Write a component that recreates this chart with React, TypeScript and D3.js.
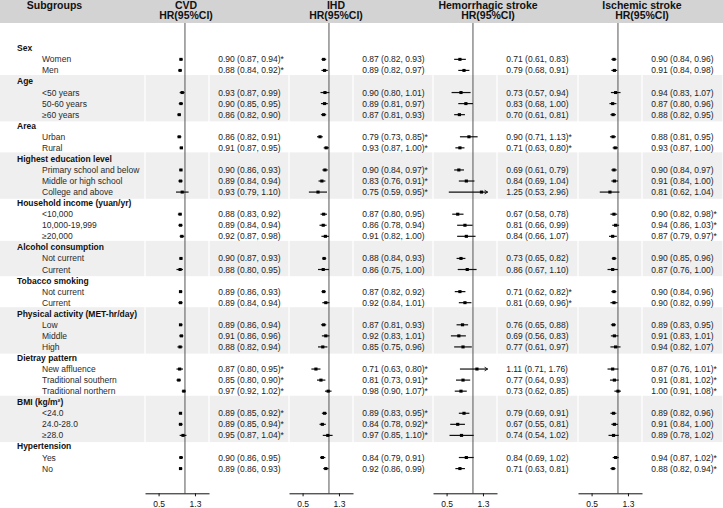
import { useEffect, useRef } from "react";
import * as d3 from "d3";

// subgroup table
const groupNames = [
  "Sex", "Age", "Area", "Highest education level", "Household income (yuan/yr)",
  "Alcohol consumption", "Tobacco smoking", "Physical activity (MET-hr/day)",
  "Dietray pattern", "BMI (kg/m²)", "Hypertension",
];
const subgroupLabels = [
  ["Women", "Men"],
  ["<50 years", "50-60 years", "≥60 years"],
  ["Urban", "Rural"],
  ["Primary school and below", "Middle or high school", "College and above"],
  ["<10,000", "10,000-19,999", "≥20,000"],
  ["Not current", "Current"],
  ["Not current", "Current"],
  ["Low", "Middle", "High"],
  ["New affluence", "Traditional southern", "Traditional northern"],
  ["<24.0", "24.0-28.0", "≥28.0"],
  ["Yes", "No"],
];

const outcomes = ["CVD", "IHD", "Hemorrhagic stroke", "Ischemic stroke"];

// [HR, lower, upper, significant-interaction flag]
const cvd = [
  [0.90, 0.87, 0.94, 1], [0.88, 0.84, 0.92, 1],
  [0.93, 0.87, 0.99, 0], [0.90, 0.85, 0.95, 0], [0.86, 0.82, 0.90, 0],
  [0.86, 0.82, 0.91, 0], [0.91, 0.87, 0.95, 0],
  [0.90, 0.86, 0.93, 0], [0.89, 0.84, 0.94, 0], [0.93, 0.79, 1.10, 0],
  [0.88, 0.83, 0.92, 0], [0.89, 0.84, 0.94, 0], [0.92, 0.87, 0.98, 0],
  [0.90, 0.87, 0.93, 0], [0.88, 0.80, 0.95, 0],
  [0.89, 0.86, 0.93, 0], [0.89, 0.84, 0.94, 0],
  [0.89, 0.86, 0.94, 0], [0.91, 0.86, 0.96, 0], [0.88, 0.82, 0.94, 0],
  [0.87, 0.80, 0.95, 1], [0.85, 0.80, 0.90, 1], [0.97, 0.92, 1.02, 1],
  [0.89, 0.85, 0.92, 1], [0.89, 0.85, 0.94, 1], [0.95, 0.87, 1.04, 1],
  [0.90, 0.86, 0.95, 0], [0.89, 0.86, 0.93, 0],
];
const ihd = [
  [0.87, 0.82, 0.93, 0], [0.89, 0.82, 0.97, 0],
  [0.90, 0.80, 1.01, 0], [0.89, 0.81, 0.97, 0], [0.87, 0.81, 0.93, 0],
  [0.79, 0.73, 0.85, 1], [0.93, 0.87, 1.00, 1],
  [0.90, 0.84, 0.97, 1], [0.83, 0.76, 0.91, 1], [0.75, 0.59, 0.95, 1],
  [0.87, 0.80, 0.95, 0], [0.86, 0.78, 0.94, 0], [0.91, 0.82, 1.00, 0],
  [0.88, 0.84, 0.93, 0], [0.86, 0.75, 1.00, 0],
  [0.87, 0.82, 0.92, 0], [0.92, 0.84, 1.01, 0],
  [0.87, 0.81, 0.93, 0], [0.92, 0.83, 1.01, 0], [0.85, 0.75, 0.96, 0],
  [0.71, 0.63, 0.80, 1], [0.81, 0.73, 0.91, 1], [0.98, 0.90, 1.07, 1],
  [0.89, 0.83, 0.95, 1], [0.84, 0.78, 0.92, 1], [0.97, 0.85, 1.10, 1],
  [0.84, 0.79, 0.91, 0], [0.92, 0.86, 0.99, 0],
];
const hemorrhagic = [
  [0.71, 0.61, 0.83, 0], [0.79, 0.68, 0.91, 0],
  [0.73, 0.57, 0.94, 0], [0.83, 0.68, 1.00, 0], [0.70, 0.61, 0.81, 0],
  [0.90, 0.71, 1.13, 1], [0.71, 0.63, 0.80, 1],
  [0.69, 0.61, 0.79, 0], [0.84, 0.69, 1.04, 0], [1.25, 0.53, 2.96, 0],
  [0.67, 0.58, 0.78, 0], [0.81, 0.66, 0.99, 0], [0.84, 0.66, 1.07, 0],
  [0.73, 0.65, 0.82, 0], [0.86, 0.67, 1.10, 0],
  [0.71, 0.62, 0.82, 1], [0.81, 0.69, 0.96, 1],
  [0.76, 0.65, 0.88, 0], [0.69, 0.56, 0.83, 0], [0.77, 0.61, 0.97, 0],
  [1.11, 0.71, 1.76, 0], [0.77, 0.64, 0.93, 0], [0.73, 0.62, 0.85, 0],
  [0.79, 0.69, 0.91, 0], [0.67, 0.55, 0.81, 0], [0.74, 0.54, 1.02, 0],
  [0.84, 0.69, 1.02, 0], [0.71, 0.63, 0.81, 0],
];
const ischemic = [
  [0.90, 0.84, 0.96, 0], [0.91, 0.84, 0.98, 0],
  [0.94, 0.83, 1.07, 0], [0.87, 0.80, 0.96, 0], [0.88, 0.82, 0.95, 0],
  [0.88, 0.81, 0.95, 0], [0.93, 0.87, 1.00, 0],
  [0.90, 0.84, 0.97, 0], [0.91, 0.84, 1.00, 0], [0.81, 0.62, 1.04, 0],
  [0.90, 0.82, 0.98, 1], [0.94, 0.86, 1.03, 1], [0.87, 0.79, 0.97, 1],
  [0.90, 0.85, 0.96, 0], [0.87, 0.76, 1.00, 0],
  [0.90, 0.84, 0.96, 0], [0.90, 0.82, 0.99, 0],
  [0.89, 0.83, 0.95, 0], [0.91, 0.83, 1.01, 0], [0.94, 0.82, 1.07, 0],
  [0.87, 0.76, 1.01, 1], [0.91, 0.81, 1.02, 1], [1.00, 0.91, 1.08, 1],
  [0.89, 0.82, 0.96, 0], [0.91, 0.84, 1.00, 0], [0.89, 0.78, 1.02, 0],
  [0.94, 0.87, 1.02, 1], [0.88, 0.82, 0.94, 1],
];
const outcomeData = [cvd, ihd, hemorrhagic, ischemic];

const xDomain = [0.35, 1.88];
const xTicks = [0.5, 1.3];
const ciClip = 1.47;

export default function App() {
  const ref = useRef<SVGSVGElement>(null);

  useEffect(() => {
    const svg = d3.select(ref.current);
    svg.selectAll("*").remove();

    const width = 723;
    const height = 508;
    const font = "'Liberation Sans', Arial, Helvetica, sans-serif";
    const headerH = 23;
    const rowStep = 11.06;
    const firstBase = 51.3;
    const axisY = 493.3;
    const forestLeft = [145, 289, 433, 578];
    const forestW = 64;
    const textRight = [289, 433, 578, 723];
    const headerX = [186, 336, 488, 642];
    const fmt = d3.format(".2f");

    svg.attr("width", width).attr("height", height).style("font-family", font);

    // flatten rows
    type Row = { label: string; header: boolean; group: number; idx: number };
    const rows: Row[] = [];
    let k = 0;
    groupNames.forEach((g, gi) => {
      rows.push({ label: g, header: true, group: gi, idx: -1 });
      subgroupLabels[gi].forEach(s => rows.push({ label: s, header: false, group: gi, idx: k++ }));
    });
    const base = (i: number) => firstBase + i * rowStep;
    const mid = (i: number) => base(i) - 3;

    // background bands
    const cols: [number, number][] = [[0, forestLeft[0]]];
    forestLeft.forEach((l, i) => {
      cols.push([l, l + forestW]);
      cols.push([l + forestW, textRight[i]]);
    });
    groupNames.forEach((g, gi) => {
      if (gi % 2 === 0) return;
      const idxs = rows.map((r, i) => (r.group === gi ? i : -1)).filter(i => i >= 0);
      const y0 = mid(idxs[0]) - 6.5;
      const y1 = mid(idxs[idxs.length - 1]) + 6.7;
      cols.forEach(([a, b]) => {
        svg.append("rect")
          .attr("x", a === 0 ? 0 : a + 0.6).attr("y", y0)
          .attr("width", b - (a === 0 ? 0 : a + 0.6) - 0.6).attr("height", y1 - y0)
          .attr("fill", "#efefef");
      });
    });

    // header
    svg.append("rect").attr("x", 0).attr("y", 0).attr("width", width).attr("height", headerH).attr("fill", "#d3d3d3");
    svg.append("text").attr("x", 54.5).attr("y", 8.6).attr("text-anchor", "middle")
      .attr("font-size", 10.5).attr("font-weight", "bold").attr("fill", "#111").text("Subgroups");
    outcomes.forEach((o, i) => {
      svg.append("text").attr("x", headerX[i]).attr("y", 8.6).attr("text-anchor", "middle")
        .attr("font-size", 10.5).attr("font-weight", "bold").attr("fill", "#111").text(o);
      svg.append("text").attr("x", headerX[i]).attr("y", 19.4).attr("text-anchor", "middle")
        .attr("font-size", 10.5).attr("font-weight", "bold").attr("fill", "#111").text("HR(95%CI)");
    });

    // labels
    svg.append("g").selectAll("text").data(rows).join("text")
      .attr("x", d => (d.header ? 17 : 42))
      .attr("y", (d, i) => base(i))
      .attr("font-size", 8.5)
      .attr("font-weight", d => (d.header ? "bold" : "normal"))
      .attr("fill", d => (d.header ? "#111" : "#2a2a2a"))
      .text(d => d.label);

    const subRows = rows.map((r, i) => ({ ...r, i })).filter(r => !r.header);

    outcomeData.forEach((data, p) => {
      const x = d3.scaleLog().domain(xDomain).range([forestLeft[p], forestLeft[p] + forestW]);
      const g = svg.append("g");

      // reference line at HR = 1
      g.append("line")
        .attr("x1", x(1)).attr("x2", x(1)).attr("y1", headerH).attr("y2", axisY)
        .attr("stroke", "#555").attr("stroke-width", 1);

      // CI lines
      g.selectAll("line.ci").data(subRows).join("line").attr("class", "ci")
        .attr("x1", d => x(data[d.idx][1]))
        .attr("x2", d => x(Math.min(data[d.idx][2], ciClip)))
        .attr("y1", d => mid(d.i)).attr("y2", d => mid(d.i))
        .attr("stroke", "#111").attr("stroke-width", 1.2);

      // arrows for truncated CIs
      g.selectAll("path.arrow").data(subRows.filter(d => data[d.idx][2] > ciClip)).join("path").attr("class", "arrow")
        .attr("d", d => {
          const tx = x(ciClip);
          const ty = mid(d.i);
          return `M${tx - 3},${ty - 1.8}L${tx},${ty}L${tx - 3},${ty + 1.8}`;
        })
        .attr("fill", "none").attr("stroke", "#111").attr("stroke-width", 1);

      // point estimates
      g.selectAll("rect.pt").data(subRows).join("rect").attr("class", "pt")
        .attr("x", d => x(data[d.idx][0]) - 1.6)
        .attr("y", d => mid(d.i) - 1.5)
        .attr("width", 3.2).attr("height", 3)
        .attr("fill", "#000");

      // estimate text
      g.selectAll("text.est").data(subRows).join("text").attr("class", "est")
        .attr("x", forestLeft[p] + forestW + 9.2)
        .attr("y", d => base(d.i))
        .attr("font-size", 8.5).attr("fill", "#222")
        .text(d => {
          const v = data[d.idx];
          return `${fmt(v[0])} (${fmt(v[1])}, ${fmt(v[2])})${v[3] ? "*" : ""}`;
        });

      // axis
      const ax = svg.append("g")
        .attr("transform", `translate(0,${axisY})`)
        .call(d3.axisBottom(x).tickValues(xTicks).tickFormat(d3.format(".1f")).tickSize(3).tickSizeOuter(0).tickPadding(5));
      ax.select(".domain").attr("stroke", "#111");
      ax.selectAll(".tick line").attr("stroke", "#111");
      ax.selectAll(".tick text").attr("font-size", 8.5).attr("font-family", font).attr("fill", "#111");
    });
  }, []);

  return <svg ref={ref} style={{ position: "absolute", left: 0, top: 0 }}></svg>;
}
